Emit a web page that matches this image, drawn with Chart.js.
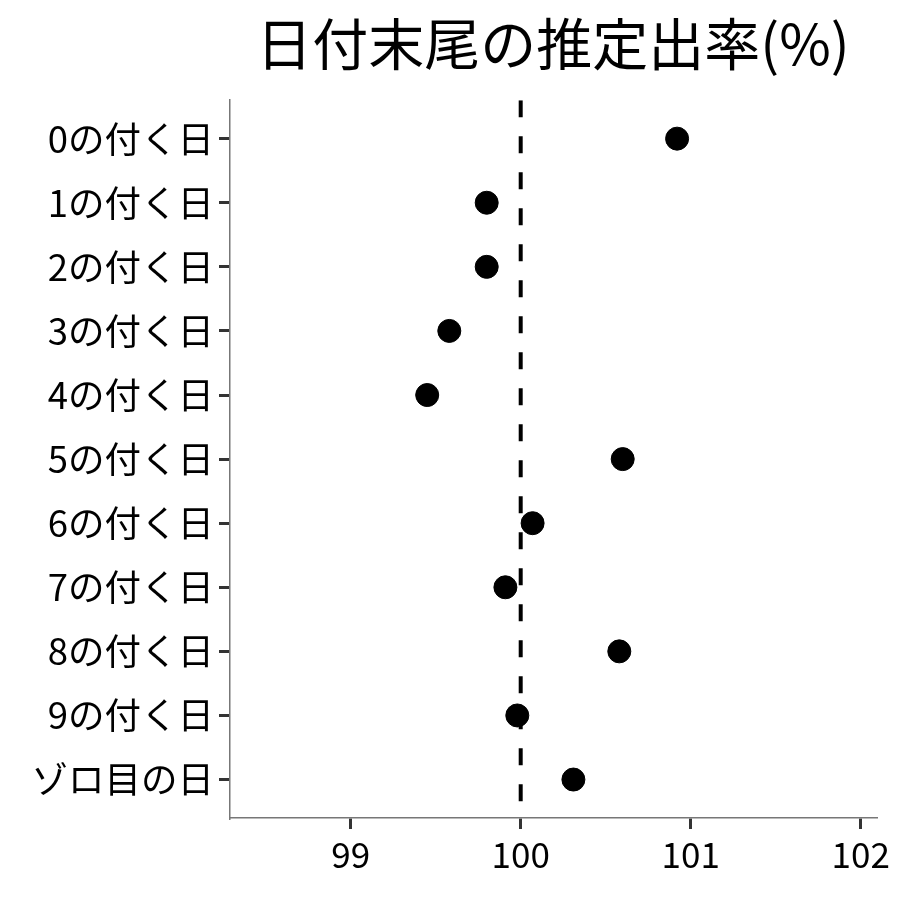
<!DOCTYPE html>
<html>
<head>
<meta charset="utf-8">
<script src="https://cdn.jsdelivr.net/npm/chart.js@4/dist/chart.umd.min.js"></script>
<style>
  html, body { margin: 0; padding: 0; background: #fff; }
  #wrap { width: 900px; height: 900px; }
</style>
</head>
<body>
<div id="wrap"><canvas id="dotChart" width="900" height="900"></canvas></div>
<script>
// categories (top to bottom) and estimated rates
const categories = ['0の付く日', '1の付く日', '2の付く日', '3の付く日', '4の付く日',
  '5の付く日', '6の付く日', '7の付く日', '8の付く日', '9の付く日', 'ゾロ目の日'];
const rates = [100.92, 99.80, 99.80, 99.58, 99.45, 100.60, 100.07, 99.91, 100.58, 99.98, 100.31];
const xTicks = [99, 100, 101, 102];
const refValue = 100;
const titleText = '日付末尾の推定出率(%)';

const FONT = '"Noto Sans CJK JP", "Noto Sans", sans-serif';
const yMin = -0.6;
const yMax = categories.length - 1 + 0.6;

const points = rates.map((v, i) => ({ x: v, y: i }));

const ctx = document.getElementById('dotChart').getContext('2d');
new Chart(ctx, {
  type: 'scatter',
  data: {
    datasets: [
      {
        label: 'rate',
        data: points,
        backgroundColor: '#000',
        borderColor: '#000',
        pointRadius: 11.5,
        pointHoverRadius: 11.5
      },
      {
        type: 'line',
        label: 'ref',
        data: [{ x: refValue, y: yMin }, { x: refValue, y: yMax }],
        borderColor: '#000',
        borderWidth: 4,
        borderDash: [17, 19],
        pointRadius: 0,
        fill: false
      }
    ]
  },
  options: {
    responsive: false,
    animation: false,
    layout: { padding: { left: 0, right: 24, top: 0, bottom: 0 } },
    plugins: {
      legend: { display: false },
      tooltip: { enabled: false },
      title: {
        display: true,
        text: titleText,
        fullSize: false,
        color: '#000',
        font: { family: FONT, size: 56, weight: 'normal' },
        padding: { top: 10, bottom: 23 }
      }
    },
    scales: {
      x: {
        type: 'linear',
        min: 98.29,
        max: 102.09,
        afterBuildTicks: s => { s.ticks = xTicks.map(v => ({ value: v })); },
        afterFit: s => { s.height = 82; },
        grid: { drawOnChartArea: false, tickLength: 11, color: '#333', lineWidth: 3 },
        border: { display: true, color: '#777', width: 1.5 },
        ticks: {
          color: '#000',
          padding: 5,
          maxRotation: 0,
          font: { family: FONT, size: 35 },
          callback: v => String(v)
        }
      },
      y: {
        type: 'linear',
        reverse: true,
        min: yMin,
        max: yMax,
        afterBuildTicks: s => { s.ticks = categories.map((c, i) => ({ value: i })); },
        afterFit: s => { s.width = 230; },
        grid: { drawOnChartArea: false, tickLength: 11, color: '#333', lineWidth: 3 },
        border: { display: true, color: '#777', width: 1.5 },
        ticks: {
          color: '#000',
          padding: 5,
          font: { family: FONT, size: 36.5 },
          callback: v => categories[v]
        }
      }
    }
  }
});
</script>
</body>
</html>
